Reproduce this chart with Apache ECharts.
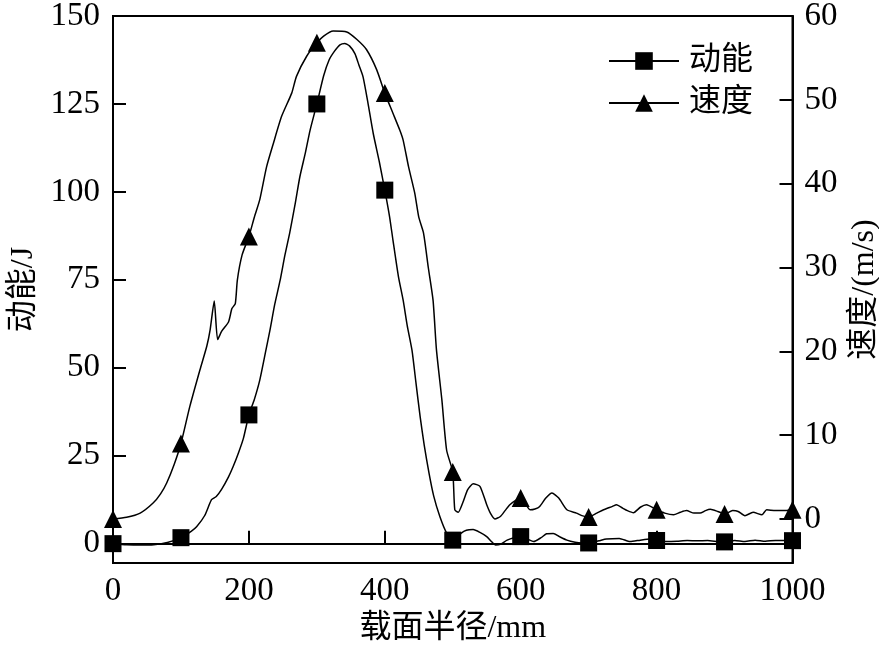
<!DOCTYPE html>
<html>
<head>
<meta charset="utf-8">
<script src="https://cdn.jsdelivr.net/npm/echarts@6/dist/echarts.min.js"></script>
<style>html,body{margin:0;padding:0;background:#fff;}#c{width:879px;height:647px;}</style>
</head>
<body>
<div id="c"></div>
<script>
const energyX = [0,20,40,60,80,100,115,123,135,145,152,160,170,177,185,192,200,208,216,224,231,238,246,253,260,268,275,283,290,300,310,318,326,334,341,348,356,362,368,375,383,392,400,407,412,420,427,433,440,446,452,458,465,472,481,491,500,505,512,520,530,540,550,557,563,570,580,590,600,610,619,630,638,648,657,668,680,690,700,715,726,745,761,776,790,800,815,830,845,860,875,890,900,915,930,945,960,975,990,1000];
const energyY = [0,-0.3,-0.4,-0.3,0.3,1.7,3.5,4.8,8,12.5,13.4,15.5,19,22,26,30,36.6,41,46.5,54,60.7,68,74.9,82,88.3,96.5,104.3,111,117.5,125,133,137.5,140,141.8,142.2,141.5,139.3,136,132.7,125.5,116.6,108.5,100.5,93,86.3,76,69.2,62,55,45.5,36.1,28,20.1,13.5,7.7,3,1,1.5,2.9,3.8,4.0,3.2,2,0.6,-0.4,-0.2,1,1.7,2,1.3,0.6,1.7,2.8,2.9,2,1.0,0.4,0.2,0.2,0.8,1.3,1.5,0.6,1.0,1.3,0.9,0.6,0.7,0.9,0.8,0.9,0.6,0.5,0.9,0.6,1.0,0.7,0.9,0.9,0.85];

const speedX = [0,20,40,59,70,79,90,100,113,128,138,143,149,154,160,170,175,180,183,190,200,208,216,226,236,248,263,270,285,300,310,324,344,359,373,388,400,412,422,427,435,444,450,457,464,471,476,484,491,500,503,508,515,522,530,540,550,556,562,570,577,584,592,600,607,614,621,628,637,646,656,668,682,690,700,712,722,735,741,750,757,766,776,785,800,812,825,835,844,855,864,872,879,890,900,912,920,930,942,955,962,975,990,1000];
const speedY = [0,0.2,0.7,1.9,3,4.3,6.5,9.0,13.4,17.8,20.6,22.6,26,21.4,22.4,23.5,25.1,25.7,28.5,31.5,33.7,36,38.1,42,44.8,48,50.8,52.8,55.2,56.8,57.6,58.2,58.1,57.2,56,53.6,50.8,48.4,46.4,45.2,42,38.9,36,34.1,30,26.1,20.2,14.2,8.2,5.6,1.1,0.8,2,3.5,4.2,3.9,1.7,0.6,0,0.3,1.0,1.7,2.2,2.5,1.8,1.1,1.2,1.5,2.5,3.1,2.5,1.1,0.7,0.4,0.25,0.7,1.1,1.5,1.7,1.3,1.0,0.75,1.4,1.7,1.1,0.7,0.5,0.8,1.0,0.7,0.7,1.0,1.15,0.9,0.6,1.0,0.9,0.4,0.8,0.5,1.1,1.0,1.0,1.1];

// Radii where markers are drawn
const markerX = [0,100,200,300,400,500,600,700,800,900,1000];

// Tick labels
const xTicks = [0,200,400,600,800,1000];
const energyTicks = [0,25,50,75,100,125,150];
const speedTicks = [0,10,20,30,40,50,60];

const seriesNames = ['动能','速度'];
const xName = '载面半径/mm';
const energyName = '动能/J';
const speedName = '速度/(m/s)';

function build(xs, ys){
  return xs.map((x,i)=> markerX.indexOf(x) >= 0 ? {value:[x,ys[i]]} : {value:[x,ys[i]], symbol:'none'});
}

const FONT = "'Liberation Serif','Noto Sans CJK SC',serif";
const lbl = {color:'#000', fontFamily: FONT, fontSize: 33, formatter: v => String(v)};
const nameStyle = {color:'#000', fontFamily: FONT, fontSize: 32};
const axisLineStyle = {color:'#000', width:2};

const chart = echarts.init(document.getElementById('c'), null, {renderer:'canvas'});
chart.setOption({
  animation:false,
  backgroundColor:'#fff',
  grid:{left:113, right:86.5, top:16, bottom:84, show:true, borderColor:'#000', borderWidth:2,
        containLabel:false, outerBoundsMode:'none'},
  legend:{
    data:seriesNames, orient:'vertical', left:603, top:40,
    itemWidth:70, itemHeight:22, itemGap:10,
    textStyle:{color:'#000', fontFamily:FONT, fontSize:32, padding:[0,0,0,5]},
    inactiveColor:'#000'
  },
  xAxis:{
    type:'value', min:0, max:1000,
    name:xName, nameLocation:'middle', nameGap:50,
    nameTextStyle:nameStyle,
    axisLine:{show:true, lineStyle:axisLineStyle},
    axisTick:{show:true, inside:true, length:13, lineStyle:axisLineStyle, customValues:xTicks},
    axisLabel:Object.assign({margin:12, customValues:xTicks}, lbl),
    splitLine:{show:false}
  },
  yAxis:[{
    type:'value', min:-5.5, max:150, position:'left',
    name:energyName, nameLocation:'middle', nameGap:66, nameRotate:90,
    nameTextStyle:nameStyle,
    axisLine:{show:true, lineStyle:axisLineStyle},
    axisTick:{show:true, inside:true, length:13, lineStyle:axisLineStyle, customValues:energyTicks},
    axisLabel:Object.assign({margin:13, customValues:energyTicks}, lbl),
    splitLine:{show:false}
  },{
    type:'value', min:-5.25, max:60, position:'right',
    name:speedName, nameLocation:'middle', nameGap:48, nameRotate:90,
    nameTextStyle:nameStyle,
    axisLine:{show:true, lineStyle:axisLineStyle},
    axisTick:{show:true, inside:true, length:13, lineStyle:axisLineStyle, customValues:speedTicks},
    axisLabel:Object.assign({margin:12, customValues:speedTicks}, lbl),
    splitLine:{show:false}
  }],
  series:[{
    name:seriesNames[0], type:'line', yAxisIndex:0,
    data:build(energyX, energyY),
    symbol:'rect', symbolSize:17, showAllSymbol:true,
    lineStyle:{color:'#000', width:1.5}, itemStyle:{color:'#000'},
    smooth:0.2, z:3
  },{
    name:seriesNames[1], type:'line', yAxisIndex:1,
    data:build(speedX, speedY),
    symbol:'triangle', symbolSize:18, showAllSymbol:true,
    lineStyle:{color:'#000', width:1.5}, itemStyle:{color:'#000'},
    smooth:0.2, z:3
  }]
});
</script>
</body>
</html>
